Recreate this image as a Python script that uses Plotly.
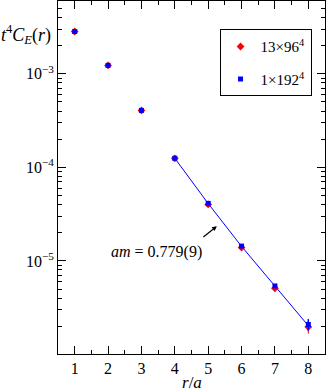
import plotly.graph_objects as go

# ==============================
# Data
# ==============================

r = [1, 2, 3, 4, 5, 6, 7, 8]

# 13 x 96^4 ensemble (red diamonds)
c_96 = [2.83e-3, 1.23e-3, 4.06e-4, 1.25e-4, 4.02e-5, 1.39e-5, 5.1e-6, 1.97e-6]
c_96_err = [0.02e-3, 0.01e-3, 0.04e-4, 0.02e-4, 0.08e-5, 0.04e-5, 0.2e-6, 0.3e-6]

# 1 x 192^4 ensemble (blue squares)
c_192 = [2.83e-3, 1.23e-3, 4.06e-4, 1.25e-4, 4.12e-5, 1.44e-5, 5.4e-6, 2.09e-6]
c_192_err = [0.02e-3, 0.01e-3, 0.03e-4, 0.02e-4, 0.1e-5, 0.04e-5, 0.2e-6, 0.3e-6]

# exponential fit, r/a = 4..8
fit_r = [4, 5, 6, 7, 8]
fit_c = [1.25e-4, 4.1e-5, 1.43e-5, 5.35e-6, 2.03e-6]

y_ticks = [1e-3, 1e-4, 1e-5]
y_ticktext = ["10<sup>−3</sup>", "10<sup>−4</sup>", "10<sup>−5</sup>"]
x_ticks = [1, 2, 3, 4, 5, 6, 7, 8]

FONT = "Times New Roman, Liberation Serif, serif"

fig = go.Figure()

fig.add_trace(go.Scatter(
    x=fit_r, y=fit_c, mode="lines",
    line=dict(color="blue", width=1), showlegend=False, hoverinfo="skip"))

fig.add_trace(go.Scatter(
    x=r, y=c_96, mode="markers", name="13×96<sup>4</sup>", legendgroup="a",
    marker=dict(symbol="diamond", size=6, color="red"),
    error_y=dict(type="data", array=c_96_err, color="red", thickness=1, width=0)))

fig.add_trace(go.Scatter(
    x=r, y=c_192, mode="markers", name="1×192<sup>4</sup>", legendgroup="b",
    marker=dict(symbol="square", size=5, color="blue"),
    error_y=dict(type="data", array=c_192_err, color="blue", thickness=1.5, width=0)))

axis_common = dict(
    showline=True, linecolor="black", linewidth=1, mirror="ticks",
    ticks="inside", tickcolor="black", showgrid=False, zeroline=False,
    tickfont=dict(family=FONT, size=16, color="black"),
)

fig.update_xaxes(
    range=[0.5, 8.5], tickvals=x_ticks, ticklen=8,
    minor=dict(ticks="inside", dtick=0.5, ticklen=4, tickcolor="black", showgrid=False),
    **axis_common)

fig.update_yaxes(
    type="log", range=[-5.995, -2.222], tickvals=y_ticks, ticktext=y_ticktext, ticklen=8,
    minor=dict(ticks="inside", dtick="D1", ticklen=4, tickcolor="black", showgrid=False),
    **axis_common)

fig.add_annotation(
    xref="paper", yref="paper", x=-0.12, y=0.905, xanchor="center", yanchor="middle",
    text="<i>t</i><sup>4</sup><i>C<sub>E</sub></i>(<i>r</i>)", showarrow=False,
    font=dict(family=FONT, size=18, color="black"))

fig.add_annotation(
    xref="paper", yref="paper", x=0.5, y=-0.08, xanchor="center", yanchor="middle",
    text="<i>r</i>/<i>a</i>", showarrow=False,
    font=dict(family=FONT, size=17, color="black"))

# log axes take annotation y in log10 units
fig.add_annotation(
    x=5.26, y=-4.629, ax=-15, ay=12, text="", showarrow=True,
    arrowhead=2, arrowsize=0.8, arrowwidth=1.2, arrowcolor="black")

fig.add_annotation(
    x=3.46, y=-4.907, text="<i>am</i> = 0.779(9)", showarrow=False,
    font=dict(family=FONT, size=16, color="black"))

fig.update_layout(
    width=327, height=391,
    margin=dict(l=58, r=2, t=1, b=37),
    plot_bgcolor="white", paper_bgcolor="white",
    legend=dict(
        x=0.605, y=0.92, xanchor="left", yanchor="top",
        bordercolor="black", borderwidth=1, bgcolor="white",
        font=dict(family=FONT, size=15, color="black"),
        itemsizing="trace", traceorder="grouped", tracegroupgap=10),
    showlegend=True,
)

fig.write_html("out.html", config={"displayModeBar": False},
               post_script="document.body.style.margin='0';")
